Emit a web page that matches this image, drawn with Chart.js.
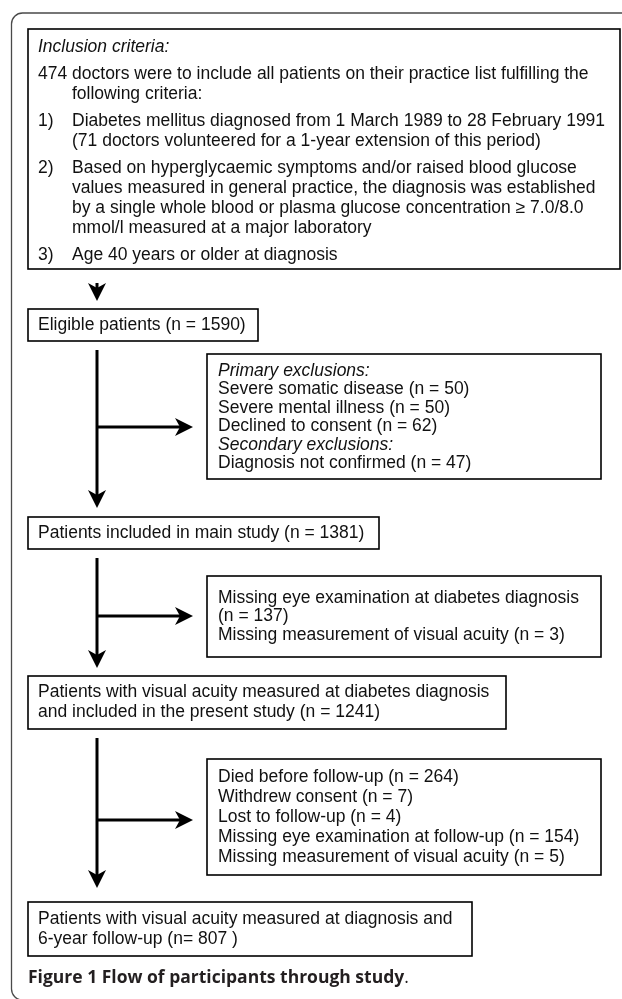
<!DOCTYPE html>
<html>
<head>
<meta charset="utf-8">
<script src="https://cdn.jsdelivr.net/npm/chart.js@4.4.0/dist/chart.umd.min.js"></script>
<style>
  html, body { margin: 0; padding: 0; background: #fff; }
  #flow { display: block; }
</style>
</head>
<body>
<canvas id="flow" width="622" height="999"></canvas>
<script>
// ---- data ----
const inclusionTitle = "Inclusion criteria:";
const inclusionIntro = ["474 doctors were to include all patients on their practice list fulfilling the", "following criteria:"];
const criteriaNumbers = ["1)", "2)", "3)"];
const criteriaLines = [
  ["Diabetes mellitus diagnosed from 1 March 1989 to 28 February 1991",
   "(71 doctors volunteered for a 1-year extension of this period)"],
  ["Based on hyperglycaemic symptoms and/or raised blood glucose",
   "values measured in general practice, the diagnosis was established",
   "by a single whole blood or plasma glucose concentration \u2265 7.0/8.0",
   "mmol/l measured at a major laboratory"],
  ["Age 40 years or older at diagnosis"]
];

const stageLabels = [
  ["Eligible patients"],
  ["Patients included in main study"],
  ["Patients with visual acuity measured at diabetes diagnosis", "and included in the present study"],
  ["Patients with visual acuity measured at diagnosis and", "6-year follow-up"]
];
const stageCounts = [1590, 1381, 1241, 807];

const primaryLabels = ["Severe somatic disease", "Severe mental illness", "Declined to consent"];
const primaryCounts = [50, 50, 62];
const secondaryLabels = ["Diagnosis not confirmed"];
const secondaryCounts = [47];
const baselineLabels = ["Missing eye examination at diabetes diagnosis", "Missing measurement of visual acuity"];
const baselineCounts = [137, 3];
const followLabels = ["Died before follow-up", "Withdrew consent", "Lost to follow-up",
  "Missing eye examination at follow-up", "Missing measurement of visual acuity"];
const followCounts = [264, 7, 4, 154, 5];

const captionBold = "Figure 1 Flow of participants through study";

// ---- layout (chart units, 1 unit = 1 px) ----
const spineX = 97;
const boxes = {
  inclusion: { x0: 28, x1: 620, y0: 29, y1: 269 },
  stage0: { x0: 28, x1: 258, y0: 309, y1: 341 },
  primary: { x0: 207, x1: 601, y0: 354, y1: 479 },
  stage1: { x0: 28, x1: 379, y0: 517, y1: 549 },
  baseline: { x0: 207, x1: 601, y0: 576, y1: 657 },
  stage2: { x0: 28, x1: 506, y0: 676, y1: 729 },
  follow: { x0: 207, x1: 601, y0: 759, y1: 875 },
  stage3: { x0: 28, x1: 472, y0: 902, y1: 956 }
};

const FONT = "'Liberation Sans', Arial, Helvetica, sans-serif";
const FSIZE = 17.5;

function nText(n, i) {
  return i === 3 ? "(n= " + n + " )" : "(n = " + n + ")";
}

function wrapTokens(ctx, label, count, maxW) {
  const words = label.split(" ");
  words.push("(n = " + count + ")");
  const lines = [];
  let cur = "";
  words.forEach(w => {
    const test = cur ? cur + " " + w : w;
    if (ctx.measureText(test).width > maxW && cur) {
      lines.push(cur);
      cur = w;
    } else {
      cur = test;
    }
  });
  if (cur) lines.push(cur);
  return lines;
}

const flowPlugin = {
  id: "flow",
  afterDraw(chart) {
    const ctx = chart.ctx;
    const sx = chart.scales.x, sy = chart.scales.y;
    const px = v => sx.getPixelForValue(v);
    const py = v => sy.getPixelForValue(v);
    ctx.save();

    // outer frame
    ctx.strokeStyle = "#4a4a4a";
    ctx.lineWidth = 1.3;
    ctx.beginPath();
    ctx.roundRect(px(11.5), py(13), px(660) - px(11.5), py(1000) - py(13), 11);
    ctx.stroke();

    function box(b) {
      ctx.strokeStyle = "#000";
      ctx.lineWidth = 1.6;
      ctx.strokeRect(px(b.x0), py(b.y0), px(b.x1) - px(b.x0), py(b.y1) - py(b.y0));
    }
    function text(t, x, y, italic) {
      ctx.font = (italic ? "italic " : "") + FSIZE + "px " + FONT;
      ctx.fillStyle = "#111";
      ctx.textBaseline = "middle";
      ctx.fillText(t, px(x), py(y));
    }
    function arrowDown(x, y0, y1) {
      ctx.strokeStyle = "#000";
      ctx.fillStyle = "#000";
      ctx.lineWidth = 3;
      ctx.beginPath();
      ctx.moveTo(px(x), py(y0));
      ctx.lineTo(px(x), py(y1 - 10));
      ctx.stroke();
      ctx.beginPath();
      ctx.moveTo(px(x), py(y1));
      ctx.lineTo(px(x - 9), py(y1 - 18));
      ctx.lineTo(px(x), py(y1 - 13));
      ctx.lineTo(px(x + 9), py(y1 - 18));
      ctx.closePath();
      ctx.fill();
    }
    function arrowRight(x0, x1, y) {
      ctx.strokeStyle = "#000";
      ctx.fillStyle = "#000";
      ctx.lineWidth = 3;
      ctx.beginPath();
      ctx.moveTo(px(x0), py(y));
      ctx.lineTo(px(x1 - 10), py(y));
      ctx.stroke();
      ctx.beginPath();
      ctx.moveTo(px(x1), py(y));
      ctx.lineTo(px(x1 - 18), py(y - 9));
      ctx.lineTo(px(x1 - 13), py(y));
      ctx.lineTo(px(x1 - 18), py(y + 9));
      ctx.closePath();
      ctx.fill();
    }

    // inclusion box
    const inc = boxes.inclusion;
    box(inc);
    const tx = inc.x0 + 10, indent = inc.x0 + 44;
    let y = 47;
    text(inclusionTitle, tx, y, true);
    y += 27;
    text(inclusionIntro[0], tx, y);
    y += 20;
    text(inclusionIntro[1], indent, y);
    criteriaLines.forEach((lines, i) => {
      y += 27;
      text(criteriaNumbers[i], tx, y);
      lines.forEach((l, j) => {
        if (j > 0) y += 20;
        text(l, indent, y);
      });
    });

    // stage boxes
    ["stage0", "stage1", "stage2", "stage3"].forEach((k, i) => {
      const b = boxes[k];
      box(b);
      const lines = stageLabels[i].slice();
      lines[lines.length - 1] += " " + nText(stageCounts[i], i);
      const mid = (b.y0 + b.y1) / 2;
      lines.forEach((l, j) => text(l, b.x0 + 10, mid + (j - (lines.length - 1) / 2) * 20));
    });

    // exclusion boxes
    const ex = boxes.primary;
    box(ex);
    const exRows = [{ t: "Primary exclusions:", it: true }];
    primaryLabels.forEach((l, i) => exRows.push({ t: l + " " + nText(primaryCounts[i]) }));
    exRows.push({ t: "Secondary exclusions:", it: true });
    secondaryLabels.forEach((l, i) => exRows.push({ t: l + " " + nText(secondaryCounts[i]) }));
    exRows.forEach((r, j) => text(r.t, ex.x0 + 11, 371 + j * 18.5, r.it));

    ctx.font = FSIZE + "px " + FONT;
    const bl = boxes.baseline;
    box(bl);
    let blRows = [];
    baselineLabels.forEach((l, i) => {
      blRows = blRows.concat(wrapTokens(ctx, l, baselineCounts[i], bl.x1 - bl.x0 - 22));
    });
    blRows.forEach((r, j) => text(r, bl.x0 + 11, 598 + j * 18.5));

    const fu = boxes.follow;
    box(fu);
    followLabels.forEach((l, i) => text(l + " " + nText(followCounts[i]), fu.x0 + 11, 777 + i * 20));

    // connectors
    arrowDown(spineX, 283, 301);
    arrowDown(spineX, 350, 508);
    arrowRight(spineX, 193, 427);
    arrowDown(spineX, 558, 668);
    arrowRight(spineX, 193, 616);
    arrowDown(spineX, 738, 888);
    arrowRight(spineX, 193, 820);

    // caption
    ctx.fillStyle = "#231f20";
    ctx.textBaseline = "middle";
    ctx.font = "bold 17.5px 'Open Sans', 'Noto Sans', sans-serif";
    ctx.fillText(captionBold, px(28), py(978));
    const w = ctx.measureText(captionBold).width;
    ctx.font = "17.5px 'Open Sans', 'Noto Sans', sans-serif";
    ctx.fillText(".", px(28) + w, py(978));

    ctx.restore();
  }
};

new Chart(document.getElementById("flow"), {
  type: "scatter",
  data: { datasets: [{ data: [], pointRadius: 0 }] },
  options: {
    responsive: false,
    animation: false,
    devicePixelRatio: 1,
    layout: { padding: 0 },
    plugins: { legend: { display: false }, tooltip: { enabled: false } },
    scales: {
      x: { type: "linear", min: 0, max: 622, display: false },
      y: { type: "linear", min: 0, max: 999, reverse: true, display: false }
    }
  },
  plugins: [flowPlugin]
});
</script>
</body>
</html>
